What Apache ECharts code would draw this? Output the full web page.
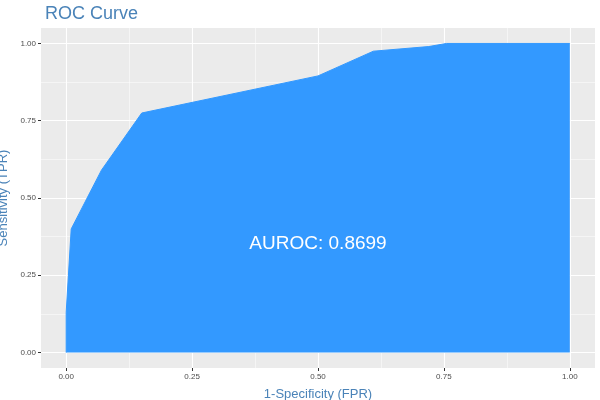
<!DOCTYPE html>
<html>
<head>
<meta charset="utf-8">
<script src="https://cdn.jsdelivr.net/npm/echarts@6/dist/echarts.min.js"></script>
<style>html,body{margin:0;padding:0;background:#fff}#c{width:600px;height:400px}</style>
</head>
<body>
<div id="c"></div>
<script>
// ROC points
var fpr = [0, 0, 0.01, 0.07, 0.15, 0.50, 0.61, 0.72, 0.755, 1.0];
var tpr = [0, 0.13, 0.40, 0.59, 0.775, 0.895, 0.975, 0.99, 1.0, 1.0];
var majorTicks = [0, 0.25, 0.5, 0.75, 1];
var minorTicks = [0.125, 0.375, 0.625, 0.875];
var aurocText = 'AUROC: 0.8699';

var chart = echarts.init(document.getElementById('c'));
var pts = fpr.map(function(x, i) { return [x, tpr[i]]; });
var lab = { color: '#4D4D4D', fontSize: 8, fontFamily: 'Liberation Sans' };
var nameStyle = { color: '#4A83B8', fontSize: 13, fontFamily: 'Liberation Sans' };

function axis(extra) {
    var a = {
        type: 'value', min: -0.05, max: 1.05,
        axisLine: { show: false, onZero: false },
        axisTick: { show: true, length: 3, lineStyle: { color: '#333' }, customValues: majorTicks },
        axisLabel: Object.assign({ margin: 5, customValues: majorTicks, formatter: function(v) { return v.toFixed(2); } }, lab),
        splitLine: { show: true, lineStyle: { color: '#fff', width: 1.1 } }
    };
    return Object.assign(a, extra);
}
function minorAxis(extra) {
    return Object.assign({
        type: 'value', min: -0.05, max: 1.05,
        axisLine: { show: false, onZero: false },
        axisTick: { show: false, customValues: minorTicks },
        axisLabel: { show: false, customValues: minorTicks },
        splitLine: { show: true, lineStyle: { color: '#fff', width: 0.5 } }
    }, extra);
}

var option = {
    animation: false,
    title: {
        text: 'ROC Curve', left: 40, top: 0,
        textStyle: { color: '#4A83B8', fontSize: 18, fontWeight: 'normal', fontFamily: 'Liberation Sans' }
    },
    grid: {
        left: 41, right: 5, top: 28, bottom: 32, show: true, backgroundColor: '#EBEBEB', borderWidth: 0,
        containLabel: false, outerBoundsMode: 'none'
    },
    xAxis: [
        axis({ name: '1-Specificity (FPR)', nameLocation: 'middle', nameGap: 20, nameTextStyle: nameStyle }),
        minorAxis({})
    ],
    yAxis: [
        axis({ name: 'Sensitivity (TPR)', nameLocation: 'middle', nameGap: 28, nameTextStyle: nameStyle }),
        minorAxis({})
    ],
    series: [{
        type: 'line', data: pts, showSymbol: false,
        lineStyle: { color: '#3399FF', width: 1 },
        areaStyle: { color: '#3399FF', opacity: 1 },
        markPoint: {
            symbolSize: 1, silent: true,
            itemStyle: { color: 'rgba(0,0,0,0)' },
            label: { show: true, position: 'inside', formatter: aurocText, color: '#fff', fontSize: 19, fontFamily: 'Liberation Sans' },
            data: [{ coord: [0.5, 0.35] }]
        }
    }]
};
chart.setOption(option);
</script>
</body>
</html>
